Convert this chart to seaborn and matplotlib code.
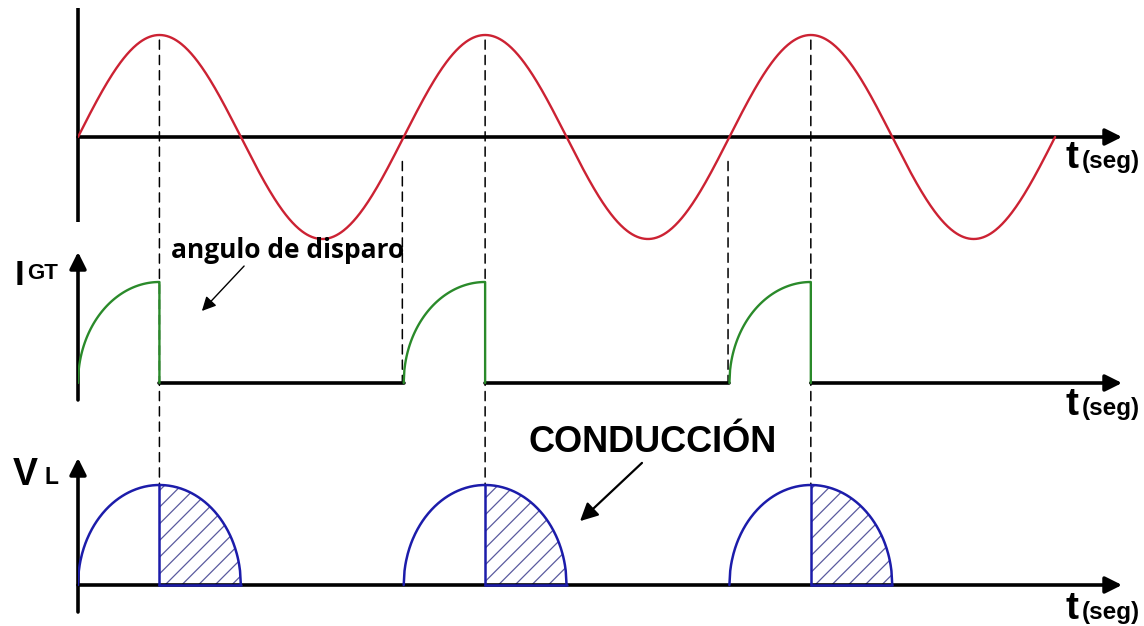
import numpy as np
import pandas as pd
import matplotlib
matplotlib.use("Agg")
import matplotlib.pyplot as plt
import seaborn as sns
from matplotlib.patches import ConnectionPatch, FancyArrowPatch

sns.set_theme(style="white")
plt.rcParams["hatch.linewidth"] = 0.9
plt.rcParams["text.color"] = "black"

# ---------------- data (angles in electrical degrees) ----------------
cycle_starts_deg = [0, 360, 720]      # start of each supply period
firing_angle_deg = 90                 # angulo de disparo
half_cycle_deg = 180                  # end of conduction (natural zero)
supply_periods = 3
supply_amplitude = 1.0
gate_peak = 1.0
load_peak = 1.0
time_label_main = "t"
time_label_unit = "(seg)"

RED = "#cc2233"
GREEN = "#2a8a2a"
BLUE = "#1c1caa"
HATCH = "#5a5a9e"

W, H = 1144, 626
fig = plt.figure(figsize=(W / 100, H / 100), dpi=100)

PX_PER_DEG = 325.7 / 360
X0, XEND = 78, 1122


def add_panel(top_px, bot_px, axis_px, unit_px):
    ax = fig.add_axes([X0 / W, 1 - bot_px / H, (XEND - X0) / W, (bot_px - top_px) / H])
    ax.set_xlim(0, (XEND - X0) / PX_PER_DEG)
    ax.set_ylim(-(bot_px - axis_px) / unit_px, (axis_px - top_px) / unit_px)
    ax.set_axis_off()
    return ax


ax_top = add_panel(0, 250, 137, 102)
ax_mid = add_panel(250, 420, 383, 101)
ax_bot = add_panel(420, 626, 585, 100)
xmax = ax_top.get_xlim()[1]

arrow_kw = dict(arrowstyle="-|>,head_length=0.5,head_width=0.25", lw=2.6, color="black",
                shrinkA=0, shrinkB=0, mutation_scale=20)

# ---------------- top: supply voltage ----------------
theta = np.linspace(0, 360 * supply_periods, 1200)
df_sup = pd.DataFrame({"t": theta, "v": supply_amplitude * np.sin(np.radians(theta))})
ax_top.annotate("", xy=(xmax, 0), xytext=(0, 0), arrowprops=arrow_kw, annotation_clip=False)
ax_top.plot([0, 0], [-0.833, 1.265], color="black", lw=2.6, clip_on=False, solid_capstyle="butt")
sns.lineplot(data=df_sup, x="t", y="v", ax=ax_top, color=RED, lw=1.7, sort=False,
             estimator=None, zorder=3)

# ---------------- middle: gate current ----------------
rows = []
for k, s in enumerate(cycle_starts_deg):
    th = np.linspace(0, firing_angle_deg, 120)
    y = gate_peak * np.sqrt(1 - (1 - th / firing_angle_deg) ** 2)
    for a, b in zip(s + th, y):
        rows.append((k, a, b))
    rows.append((k, s + firing_angle_deg, 0.0))
df_gate = pd.DataFrame(rows, columns=["pulse", "t", "i"])
zero_rows = []
for k in range(len(cycle_starts_deg) - 1):
    zero_rows.append((k, cycle_starts_deg[k] + firing_angle_deg, 0.0))
    zero_rows.append((k, cycle_starts_deg[k + 1], 0.0))
df_zero = pd.DataFrame(zero_rows, columns=["seg", "t", "i"])
sns.lineplot(data=df_zero, x="t", y="i", units="seg", estimator=None, ax=ax_mid,
             color="black", lw=2.6, sort=False)
ax_mid.annotate("", xy=(xmax, 0), xytext=(cycle_starts_deg[-1] + firing_angle_deg, 0),
                arrowprops=arrow_kw, annotation_clip=False)
ax_mid.annotate("", xy=(0, 1.297), xytext=(0, -0.168), arrowprops=arrow_kw,
                annotation_clip=False)
sns.lineplot(data=df_gate, x="t", y="i", units="pulse", estimator=None, ax=ax_mid,
             color=GREEN, lw=1.7, sort=False, zorder=3)

# ---------------- bottom: load voltage ----------------
ax_bot.annotate("", xy=(xmax, 0), xytext=(0, 0), arrowprops=arrow_kw, annotation_clip=False)
ax_bot.annotate("", xy=(0, 1.27), xytext=(0, -0.27), arrowprops=arrow_kw,
                annotation_clip=False)
rows = []
for k, s in enumerate(cycle_starts_deg):
    th = np.linspace(0, half_cycle_deg, 200)
    y = load_peak * np.sqrt(np.clip(1 - ((th - half_cycle_deg / 2) / (half_cycle_deg / 2)) ** 2, 0, 1))
    for a, b in zip(s + th, y):
        rows.append((k, a, b))
df_load = pd.DataFrame(rows, columns=["hump", "t", "v"])
for k, s in enumerate(cycle_starts_deg):
    h = df_load[(df_load.hump == k) & (df_load.t >= s + firing_angle_deg)].sort_values("t")
    ax_bot.fill_between(h.t, 0, h.v, facecolor="none", edgecolor=HATCH, hatch="//",
                        lw=0, zorder=2)
    ax_bot.plot([s + firing_angle_deg, s + firing_angle_deg], [0, load_peak], color=BLUE,
                lw=1.8, zorder=4)
    ax_bot.plot([s + firing_angle_deg, s + half_cycle_deg], [0, 0], color=BLUE, lw=1.8, zorder=4)
sns.lineplot(data=df_load, x="t", y="v", units="hump", estimator=None, ax=ax_bot,
             color=BLUE, lw=1.8, sort=False, zorder=4)
for ax in (ax_top, ax_mid, ax_bot):
    ax.set_xlabel("")
    ax.set_ylabel("")
    ax.set_xlim(0, xmax)

# ---------------- dashed guide lines ----------------
dash_kw = dict(color="black", lw=1.1, linestyle=(0, (6, 4)), zorder=-1)
for s in cycle_starts_deg:
    fa = s + firing_angle_deg
    con = ConnectionPatch(xyA=(fa, 0.95), coordsA=ax_top.transData,
                          xyB=(fa, load_peak), coordsB=ax_bot.transData, **dash_kw)
    fig.add_artist(con)
for s in cycle_starts_deg[1:]:
    con = ConnectionPatch(xyA=(s - 1.5, -0.24), coordsA=ax_top.transData,
                          xyB=(s - 1.5, 0), coordsB=ax_mid.transData, **dash_kw)
    fig.add_artist(con)


# ---------------- text ----------------
def ftext(x, y, s, **kw):
    fig.text(x / W, 1 - y / H, s, color="black", **kw)


for yb in (168, 415, 619):
    ftext(1066, yb, time_label_main, fontsize=28, fontweight="bold", family="Liberation Sans", va="baseline")
    ftext(1082, yb, time_label_unit, fontsize=17.5, fontweight="bold", family="Liberation Sans", va="baseline")

ftext(15, 285, "I", fontsize=25, fontweight="bold", family="Liberation Sans", va="baseline")
ftext(27, 279, "GT", fontsize=16, fontweight="bold", family="Liberation Sans", va="baseline")
ftext(13, 485, "V", fontsize=27, fontweight="bold", family="Liberation Sans", va="baseline")
ftext(45, 484, "L", fontsize=16.5, fontweight="bold", family="Liberation Sans", va="baseline")

ftext(171, 258, "angulo de disparo", fontsize=19, fontweight="bold", family="Open Sans", va="baseline")
ftext(529, 452, "CONDUCCIÓN", fontsize=26, fontweight="bold", family="Liberation Sans", va="baseline")

fig.add_artist(FancyArrowPatch(
    (246 / W, 1 - 264 / H), (200 / W, 1 - 313 / H), transform=fig.transFigure,
    arrowstyle="-|>,head_length=0.6,head_width=0.3", mutation_scale=14, lw=1.0, color="black"))
fig.add_artist(FancyArrowPatch(
    (644 / W, 1 - 461 / H), (578 / W, 1 - 523 / H), transform=fig.transFigure,
    arrowstyle="-|>,head_length=0.6,head_width=0.3", mutation_scale=18, lw=1.6, color="black"))

fig.savefig("out.png", dpi=100, facecolor="white")
